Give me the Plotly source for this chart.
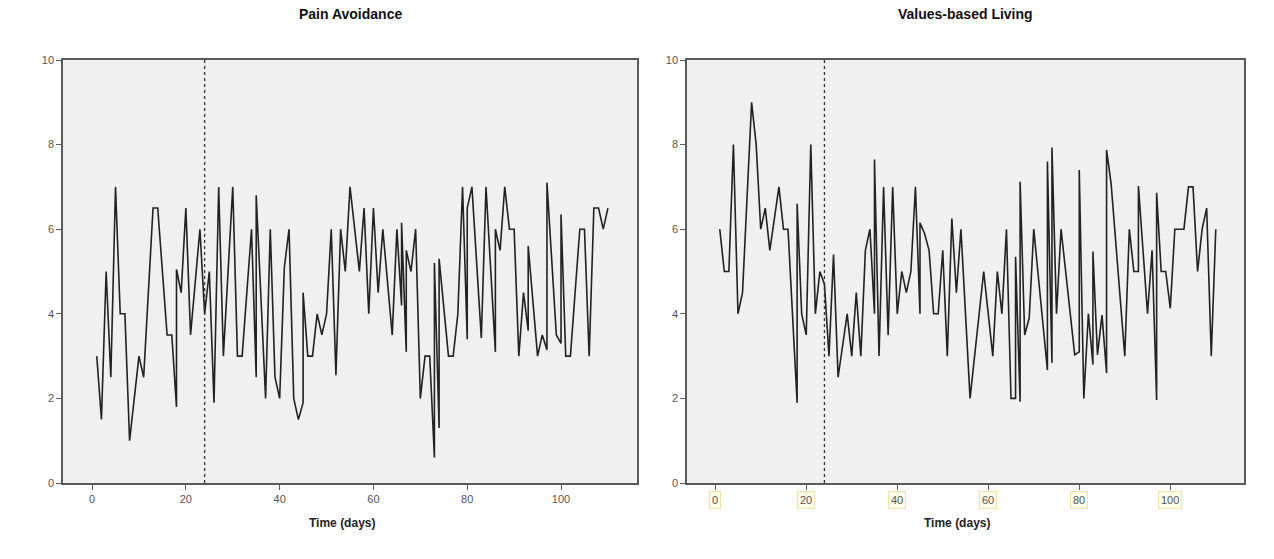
import plotly.graph_objects as go

# ---- data ----
pain_days = [1, 2, 3, 4, 5, 6, 7, 8, 10, 11, 13, 14, 16, 17, 18, 18, 19, 20, 21, 23,
             24, 25, 26, 27, 28, 30, 31, 32, 34, 35, 35, 37, 38, 39, 40, 41, 42, 43, 44, 45,
             45, 46, 47, 48, 49, 50, 51, 52, 53, 54, 55, 57, 58, 59, 60, 61, 62, 64, 65, 66,
             66, 67, 67, 68, 69, 70, 71, 72, 73, 73, 74, 74, 76, 77, 78, 79, 80, 80, 81, 83,
             84, 86, 86, 87, 88, 89, 90, 91, 92, 93, 93, 95, 96, 97, 97, 99, 100, 100, 101, 102,
             104, 105, 106, 107, 108, 109, 110]
pain_values = [3, 1.5, 5, 2.5, 7, 4, 4, 1, 3, 2.5, 6.5, 6.5, 3.5, 3.5, 1.8, 5.05, 4.5, 6.5, 3.5, 6,
               4, 5, 1.9, 7, 3, 7, 3, 3, 6, 2.5, 6.8, 2, 6, 2.5, 2, 5.1, 6, 2, 1.5, 1.9,
               4.5, 3, 3, 4, 3.5, 4, 6, 2.55, 6, 5, 7, 5, 6.5, 4, 6.5, 4.5, 6, 3.5, 6, 4.2,
               6.15, 3.1, 5.5, 5, 6, 2, 3, 3, 0.6, 5.2, 1.3, 5.3, 3, 3, 4, 7, 3.4, 6.5, 7, 3.43,
               7, 3.1, 6, 5.5, 7, 6, 6, 3, 4.5, 3.6, 5.6, 3, 3.5, 3.15, 7.1, 3.5, 3.3, 6.35, 3, 3,
               6, 6, 3, 6.5, 6.5, 6, 6.5]

values_days = [1, 2, 3, 4, 5, 6, 8, 9, 10, 11, 12, 14, 15, 16, 18, 18, 19, 20, 21, 22,
               23, 24, 25, 26, 27, 29, 30, 31, 32, 33, 34, 35, 35, 36, 37, 38, 39, 40, 41, 42,
               43, 44, 45, 45, 46, 47, 48, 49, 50, 51, 52, 53, 54, 56, 59, 61, 62, 63, 64, 65,
               66, 66, 67, 67, 68, 69, 70, 73, 73, 74, 74, 75, 76, 79, 80, 80, 81, 82, 83, 83,
               84, 85, 86, 86, 87, 90, 91, 92, 93, 93, 95, 96, 97, 97, 98, 99, 100, 101, 103, 104,
               105, 106, 107, 108, 109, 110]
values_values = [6, 5, 5, 8, 4, 4.5, 9, 8, 6, 6.5, 5.5, 7, 6, 6, 1.9, 6.6, 4, 3.5, 8, 4,
                 5, 4.7, 3, 5.4, 2.5, 4, 3, 4.5, 3, 5.5, 6, 4, 7.65, 3, 7, 3.5, 7, 4, 5, 4.5,
                 5, 7, 4, 6.15, 5.9, 5.5, 4, 4, 5.5, 3, 6.25, 4.5, 6, 2, 5, 3, 5, 4, 6, 2,
                 2, 5.35, 1.92, 7.12, 3.5, 3.9, 6, 2.67, 7.6, 2.84, 7.93, 4, 6, 3.03, 3.1, 7.4, 2, 4, 2.8, 5.47,
                 3.03, 3.97, 2.6, 7.87, 7.08, 3, 6, 5, 5, 7.02, 4, 5.5, 1.96, 6.86, 5, 5, 4.13, 6, 6, 7,
                 7, 5, 6, 6.5, 3, 6]

panel_titles = ["Pain Avoidance", "Values-based Living"]
x_title = "Time (days)"
intervention_day = 24
x_ticks = [0, 20, 40, 60, 80, 100]
y_ticks = [0, 2, 4, 6, 8, 10]

# ---- styling ----
W, H = 1274, 559
FONT = "Liberation Sans, Arial, sans-serif"
FRAME = "#5a5a5a"
PLOT_BG = "#f0f0f0"
LINE = "#222222"

left_dom = [63 / W, 637 / W]
right_dom = [687 / W, 1244 / W]
y_dom = [1 - 483 / H, 1 - 60 / H]
x_range = [-6.2, 116.2]

fig = go.Figure()
fig.add_trace(go.Scatter(x=pain_days, y=pain_values, mode="lines",
                         line=dict(color=LINE, width=1.6), xaxis="x", yaxis="y",
                         showlegend=False, hoverinfo="skip"))
fig.add_trace(go.Scatter(x=values_days, y=values_values, mode="lines",
                         line=dict(color=LINE, width=1.6), xaxis="x2", yaxis="y2",
                         showlegend=False, hoverinfo="skip"))

axis_common = dict(showline=True, mirror=True, linecolor=FRAME, linewidth=1.5,
                   showgrid=False, zeroline=False, ticks="outside", ticklen=5,
                   tickcolor=FRAME, automargin=False,
                   tickfont=dict(family=FONT, size=11, color="#555555"))

fig.update_layout(
    width=W, height=H,
    margin=dict(l=0, r=0, t=0, b=0, pad=0),
    paper_bgcolor="white",
    plot_bgcolor=PLOT_BG,
    font=dict(family=FONT),
    xaxis=dict(domain=left_dom, range=x_range, tickvals=x_ticks, anchor="y", **axis_common),
    yaxis=dict(domain=y_dom, range=[0, 10], tickvals=y_ticks, anchor="x", **axis_common),
    xaxis2=dict(domain=right_dom, range=x_range, tickvals=x_ticks, anchor="y2",
                showticklabels=False, **axis_common),
    yaxis2=dict(domain=y_dom, range=[0, 10], tickvals=y_ticks, anchor="x2", **axis_common),
)

# intervention markers
for xr in ["x", "x2"]:
    yr = "y" if xr == "x" else "y2"
    fig.add_shape(type="line", xref=xr, yref=yr + " domain", x0=intervention_day,
                  x1=intervention_day, y0=0, y1=1,
                  line=dict(color="#333333", width=1.3, dash="dot"))

# titles
doms = [left_dom, right_dom]
for title, dom in zip(panel_titles, doms):
    cx = (dom[0] + dom[1]) / 2
    fig.add_annotation(text="<b>" + title + "</b>", x=cx, y=1 - 14 / H, xref="paper",
                       yref="paper", showarrow=False, xanchor="center", yanchor="middle",
                       font=dict(family=FONT, size=14, color="#111111"))
    fig.add_annotation(text="<b>" + x_title + "</b>", x=cx - 8 / W, y=1 - 523 / H,
                       xref="paper", yref="paper", showarrow=False, xanchor="center",
                       yanchor="middle", font=dict(family=FONT, size=12, color="#222222"))

# boxed tick labels on the right panel
for t in x_ticks:
    fig.add_annotation(text=str(t), x=t, xref="x2", y=1 - 500 / H, yref="paper",
                       showarrow=False, xanchor="center", yanchor="middle",
                       font=dict(family=FONT, size=11, color="#555555"),
                       bgcolor="#fffce8", bordercolor="#f1e3a6", borderwidth=1, borderpad=2)

fig.write_html("out.html", config={"displayModeBar": False},
               post_script="document.body.style.margin='0';document.body.style.overflow='hidden';")
